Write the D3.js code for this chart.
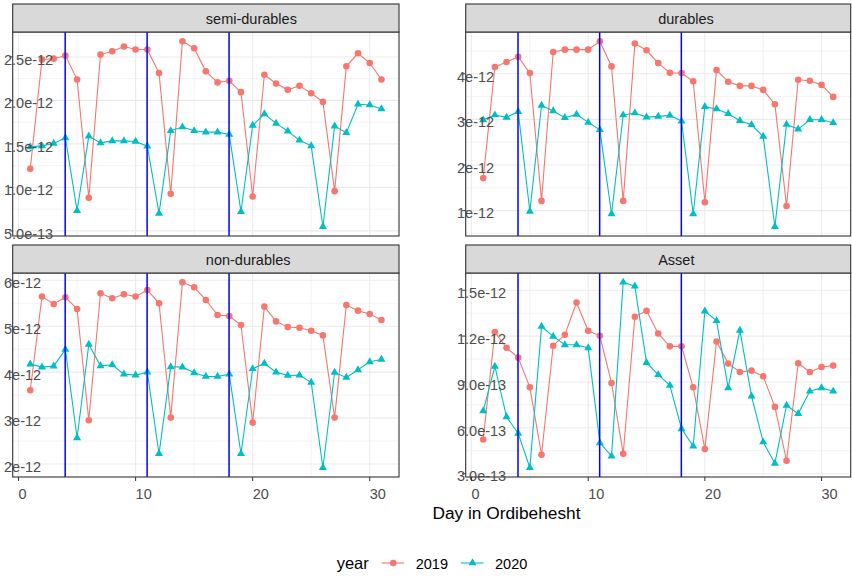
<!DOCTYPE html>
<html>
<head>
<meta charset="utf-8">
<script src="https://cdn.jsdelivr.net/npm/d3@7"></script>
<style>
  body { margin: 0; background: #fff; }
  text { font-family: "Liberation Sans", Arial, sans-serif; }
</style>
</head>
<body>
<div id="chart"></div>
<script>
// facet chart, one panel per category, free y scales
var width = 852;
var height = 576;

var days = [1,2,3,4,5,6,7,8,9,10,11,12,13,14,15,16,17,18,19,20,21,22,23,24,25,26,27,28,29,30,31];
var years = ["2019", "2020"];
var categories = ["semi-durables", "durables", "non-durables", "Asset"];
var eventDays = [4, 11, 18];

var semi2019 = [1.215,2.47,2.48,2.515,2.24,0.88,2.527,2.566,2.62,2.585,2.585,2.315,0.926,2.68,2.6,2.334,2.207,2.226,2.095,0.895,2.295,2.195,2.122,2.168,2.083,1.983,0.957,2.392,2.542,2.43,2.24];
var semi2020 = [1.466,1.478,1.505,1.57,0.733,1.59,1.512,1.535,1.535,1.528,1.474,0.702,1.651,1.694,1.651,1.636,1.636,1.609,0.721,1.713,1.844,1.736,1.647,1.543,1.478,0.548,1.705,1.628,1.956,1.948,1.902];
var dur2019 = [1.713,4.147,4.257,4.375,4.015,1.213,4.478,4.529,4.529,4.529,4.713,4.162,1.213,4.662,4.515,4.235,4.022,4.015,3.838,1.184,4.081,3.824,3.735,3.735,3.647,3.331,1.103,3.868,3.846,3.757,3.493];
var dur2020 = [2.99,3.096,3.044,3.169,0.985,3.309,3.184,3.037,3.11,2.934,2.772,0.926,3.096,3.14,3.051,3.066,3.088,2.963,0.926,3.279,3.228,3.125,2.971,2.882,2.625,0.647,2.89,2.787,2.993,2.993,2.926];
var non2019 = [3.607,5.644,5.484,5.629,5.375,2.953,5.716,5.607,5.695,5.644,5.789,5.498,3.011,5.956,5.847,5.571,5.244,5.222,5.025,2.902,5.425,5.105,4.982,4.967,4.902,4.8,3.011,5.462,5.338,5.265,5.135];
var non2020 = [4.175,4.109,4.131,4.495,2.567,4.604,4.138,4.16,3.956,3.935,4.0,2.225,4.116,4.109,3.985,3.905,3.905,3.956,2.225,4.073,4.189,4.0,3.927,3.935,3.775,1.92,3.993,3.884,4.051,4.225,4.276];
var asset2019 = [0.524,1.226,1.124,1.059,0.865,0.424,1.137,1.209,1.42,1.235,1.202,0.893,0.43,1.326,1.365,1.217,1.133,1.133,0.865,0.461,1.165,1.02,0.965,0.974,0.937,0.737,0.385,1.022,0.965,0.998,1.007];
var asset2020 = [0.711,1.002,0.672,0.563,0.339,1.263,1.198,1.143,1.143,1.122,0.502,0.415,1.552,1.526,1.026,0.948,0.878,0.593,0.48,1.363,1.3,0.861,1.237,0.807,0.507,0.367,0.746,0.693,0.839,0.861,0.839];

// y ticks (values in units of 1e-12) and their labels
var semiTicks = [0.5, 1.0, 1.5, 2.0, 2.5];
var semiLabels = ["5.0e-13", "1.0e-12", "1.5e-12", "2.0e-12", "2.5e-12"];
var durTicks = [1, 2, 3, 4];
var durLabels = ["1e-12", "2e-12", "3e-12", "4e-12"];
var nonTicks = [2, 3, 4, 5, 6];
var nonLabels = ["2e-12", "3e-12", "4e-12", "5e-12", "6e-12"];
var assetTicks = [0.3, 0.6, 0.9, 1.2, 1.5];
var assetLabels = ["3.0e-13", "6.0e-13", "9.0e-13", "1.2e-12", "1.5e-12"];
var xTicks = [0, 10, 20, 30];

var colors = {"2019": "#F8766D", "2020": "#00BFC4"};

var series = [
  {name: "semi-durables", v2019: semi2019, v2020: semi2020, ticks: semiTicks, labels: semiLabels},
  {name: "durables", v2019: dur2019, v2020: dur2020, ticks: durTicks, labels: durLabels},
  {name: "non-durables", v2019: non2019, v2020: non2020, ticks: nonTicks, labels: nonLabels},
  {name: "Asset", v2019: asset2019, v2020: asset2020, ticks: assetTicks, labels: assetLabels}
];

var cols = [[12.7, 399], [465.7, 850.7]];
var rows = [{strip: 4, top: 32, bottom: 236}, {strip: 245, top: 273, bottom: 477}];

var svg = d3.select("#chart")
  .append("svg")
    .attr("width", width)
    .attr("height", height);

series.forEach(function(s, i) {
  var c = cols[i % 2], r = rows[Math.floor(i / 2)];
  var g = svg.append("g");

  var x = d3.scaleLinear().domain([-0.5, 32.5]).range(c);
  var all = s.v2019.concat(s.v2020);
  var lo = d3.min(all), hi = d3.max(all), pad = (hi - lo) * 0.05;
  var y = d3.scaleLinear().domain([lo - pad, hi + pad]).range([r.bottom, r.top]);

  // minor + major grid
  var step = s.ticks[1] - s.ticks[0];
  var minorY = [];
  for (var k = -1; k < s.ticks.length; k++) {
    var m = s.ticks[0] + step * (k + 0.5);
    if (m > y.domain()[0] && m < y.domain()[1]) minorY.push(m);
  }
  var minorX = [5, 15, 25];

  g.selectAll(".mny").data(minorY).enter().append("line")
    .attr("x1", c[0]).attr("x2", c[1])
    .attr("y1", d => y(d)).attr("y2", d => y(d))
    .attr("stroke", "#ebebeb").attr("stroke-width", 0.6);
  g.selectAll(".mnx").data(minorX).enter().append("line")
    .attr("x1", d => x(d)).attr("x2", d => x(d))
    .attr("y1", r.top).attr("y2", r.bottom)
    .attr("stroke", "#ebebeb").attr("stroke-width", 0.6);
  g.selectAll(".mjy").data(s.ticks).enter().append("line")
    .attr("x1", c[0]).attr("x2", c[1])
    .attr("y1", d => y(d)).attr("y2", d => y(d))
    .attr("stroke", "#ebebeb").attr("stroke-width", 1.1);
  g.selectAll(".mjx").data(xTicks).enter().append("line")
    .attr("x1", d => x(d)).attr("x2", d => x(d))
    .attr("y1", r.top).attr("y2", r.bottom)
    .attr("stroke", "#ebebeb").attr("stroke-width", 1.1);

  // lines and points
  years.forEach(function(yr) {
    var vals = s["v" + yr];
    var pts = days.map((d, j) => [d, vals[j]]);
    g.append("path")
      .datum(pts)
      .attr("fill", "none")
      .attr("stroke", colors[yr])
      .attr("stroke-width", 1.1)
      .attr("d", d3.line().x(d => x(d[0])).y(d => y(d[1])));
  });
  g.selectAll(".p19").data(days).enter().append("circle")
    .attr("cx", d => x(d))
    .attr("cy", (d, j) => y(s.v2019[j]))
    .attr("r", 3.3)
    .attr("fill", colors["2019"]);
  g.selectAll(".p20").data(days).enter().append("path")
    .attr("d", d3.symbol(d3.symbolTriangle, 28))
    .attr("transform", (d, j) => "translate(" + x(d) + "," + y(s.v2020[j]) + ")")
    .attr("fill", colors["2020"]);

  // event lines
  g.selectAll(".ev").data(eventDays).enter().append("line")
    .attr("x1", d => x(d) - 0.2).attr("x2", d => x(d) - 0.2)
    .attr("y1", r.top).attr("y2", r.bottom)
    .attr("stroke", "#0000FF").attr("stroke-width", 1.5);

  // panel border
  g.append("rect")
    .attr("x", c[0]).attr("y", r.top)
    .attr("width", c[1] - c[0]).attr("height", r.bottom - r.top)
    .attr("fill", "none").attr("stroke", "#333333").attr("stroke-width", 1.1);

  // strip
  g.append("rect")
    .attr("x", c[0]).attr("y", r.strip)
    .attr("width", c[1] - c[0]).attr("height", r.top - r.strip)
    .attr("fill", "#d9d9d9").attr("stroke", "#333333").attr("stroke-width", 1.1);
  g.append("text")
    .attr("x", (c[0] + c[1]) / 2)
    .attr("y", r.strip + 19.5)
    .attr("font-size", 14.5)
    .attr("fill", "#1a1a1a")
    .text(s.name);

  // y axis ticks + labels
  g.selectAll(".yt").data(s.ticks).enter().append("line")
    .attr("x1", c[0] - 3.5).attr("x2", c[0])
    .attr("y1", d => y(d)).attr("y2", d => y(d))
    .attr("stroke", "#333333").attr("stroke-width", 1);
  g.selectAll(".yl").data(s.ticks).enter().append("text")
    .attr("x", c[0] - 8.7)
    .attr("y", d => y(d) + 7.8)
    .attr("font-size", 14.5)
    .attr("fill", "#4d4d4d")
    .text((d, j) => s.labels[j]);

  // x axis only on bottom row
  if (i >= 2) {
    g.selectAll(".xt").data(xTicks).enter().append("line")
      .attr("x1", d => x(d)).attr("x2", d => x(d))
      .attr("y1", r.bottom).attr("y2", r.bottom + 4)
      .attr("stroke", "#333333").attr("stroke-width", 1);
    g.selectAll(".xl").data(xTicks).enter().append("text")
      .attr("x", d => x(d))
      .attr("y", r.bottom + 21.5)
      .attr("font-size", 14.5)
      .attr("fill", "#4d4d4d")
      .text(d => d);
  }
});

// axis title
svg.append("text")
  .attr("x", 432.5)
  .attr("y", 518.5)
  .attr("font-size", 17.3)
  .attr("fill", "#000")
  .text("Day in Ordibehesht");

// legend
var leg = svg.append("g");
leg.append("text")
  .attr("x", 336.7).attr("y", 569)
  .attr("font-size", 16.5)
  .text("year");
var keyX = [381.7, 461];
years.forEach(function(yr, i) {
  var kx = keyX[i];
  leg.append("line")
    .attr("x1", kx).attr("x2", kx + 22.5)
    .attr("y1", 563).attr("y2", 563)
    .attr("stroke", colors[yr]).attr("stroke-width", 1.1);
  if (yr === "2019") {
    leg.append("circle").attr("cx", kx + 11.5).attr("cy", 563).attr("r", 3.3).attr("fill", colors[yr]);
  } else {
    leg.append("path")
      .attr("d", d3.symbol(d3.symbolTriangle, 28))
      .attr("transform", "translate(" + (kx + 11.5) + ",563)")
      .attr("fill", colors[yr]);
  }
  leg.append("text")
    .attr("x", kx + 34).attr("y", 569)
    .attr("font-size", 14.5)
    .attr("fill", "#000")
    .text(yr);
});
</script>
</body>
</html>
